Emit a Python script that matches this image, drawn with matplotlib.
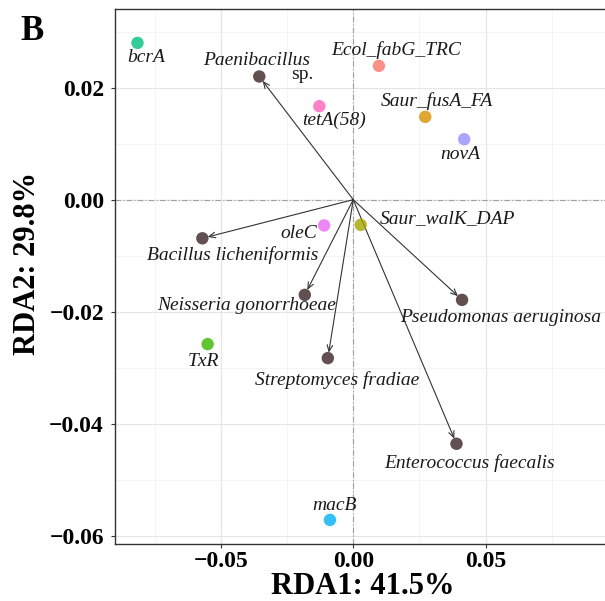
import matplotlib
matplotlib.use("Agg")
import matplotlib.pyplot as plt
from matplotlib.ticker import MultipleLocator

plt.rcParams['font.family'] = ['Liberation Serif', 'DejaVu Serif']
plt.rcParams['axes.unicode_minus'] = True

# ---- data ----
gene_names = ["bcrA", "Ecol_fabG_TRC", "tetA(58)", "Saur_fusA_FA", "novA",
              "oleC", "Saur_walK_DAP", "TxR", "macB"]
gene_x = [-0.0815, 0.0097, -0.0128, 0.0272, 0.0419, -0.0110, 0.0028, -0.0550, -0.0088]
gene_y = [0.0280, 0.0239, 0.0167, 0.0148, 0.0108, -0.0046, -0.0045, -0.0258, -0.0572]
gene_colors = ["#00BF7D", "#F8766D", "#FF62BC", "#D89000", "#9590FF",
               "#E76BF3", "#A3A500", "#39B600", "#00B0F6"]

species_names = ["Paenibacillus", "Bacillus licheniformis", "Neisseria gonorrhoeae",
                 "Pseudomonas aeruginosa", "Streptomyces fradiae", "Enterococcus faecalis"]
species_x = [-0.0355, -0.0570, -0.0183, 0.0411, -0.0096, 0.0390]
species_y = [0.0220, -0.0069, -0.0170, -0.0179, -0.0283, -0.0436]

x_ticks = [-0.05, 0.00, 0.05]
y_ticks = [-0.06, -0.04, -0.02, 0.00, 0.02]
x_label = "RDA1: 41.5%"
y_label = "RDA2: 29.8%"
panel_tag = "B"

# label offsets (pixels) - styling
gene_offsets = [(9, -15), (17, 16), (15, -14), (12, 16), (-4, -15),
                (-25, -8), (87, 6), (-4, -17), (5, 14)]
species_offsets = [(-3, 16), (30, -17), (-58, -11), (39, -18), (9, -22), (13, -19)]

fig = plt.figure(figsize=(6.05, 6.01), dpi=100)
ax = fig.add_axes([115/605, 1-544/601, 1-115/605, (544-9.3)/601])

ax.set_xlim(-0.0900, 0.0951)
ax.set_ylim(-0.0615, 0.0340)

ax.xaxis.set_major_locator(MultipleLocator(0.05))
ax.xaxis.set_minor_locator(MultipleLocator(0.025))
ax.yaxis.set_major_locator(MultipleLocator(0.02))
ax.yaxis.set_minor_locator(MultipleLocator(0.01))
ax.grid(True, which='major', color='#E6E6E6', lw=0.9, zorder=0)
ax.grid(True, which='minor', color='#F2F2F2', lw=0.6, zorder=0)
ax.set_axisbelow(True)

ax.axhline(0, color='#A0A0A0', lw=0.8, ls=(0, (5, 2, 1, 2)), zorder=1)
ax.axvline(0, color='#A0A0A0', lw=0.8, ls=(0, (5, 2, 1, 2)), zorder=1)

# arrows
for sx, sy in zip(species_x, species_y):
    ax.annotate("", xy=(sx, sy), xytext=(0, 0),
                arrowprops=dict(arrowstyle='->,head_length=0.45,head_width=0.2',
                                lw=0.8, color='#333333', shrinkA=0, shrinkB=4),
                zorder=2)

ax.scatter(gene_x, gene_y, s=80, c=gene_colors, alpha=0.8, edgecolors='none', zorder=3)
ax.scatter(species_x, species_y, s=80, c='#5A4545', alpha=0.95, edgecolors='none', zorder=3)

lab_fs = 14
for name, x, y, off in zip(gene_names, gene_x, gene_y, gene_offsets):
    ax.annotate(name, (x, y), xytext=off, textcoords='offset pixels',
                ha='center', va='center', fontsize=lab_fs, style='italic', color='#1a1a1a')
for name, x, y, off in zip(species_names, species_x, species_y, species_offsets):
    ax.annotate(name, (x, y), xytext=off, textcoords='offset pixels',
                ha='center', va='center', fontsize=lab_fs, style='italic', color='#1a1a1a')
# "sp." for Paenibacillus
ax.annotate("sp.", (species_x[0], species_y[0]), xytext=(43, 2), textcoords='offset pixels',
            ha='center', va='center', fontsize=lab_fs, color='#1a1a1a')

ax.set_xticks(x_ticks)
ax.set_yticks(y_ticks)
ax.set_xticklabels([f"{v:.2f}".replace("-", "\u2212") for v in x_ticks],
                   fontsize=17, fontweight='bold')
ax.set_yticklabels([f"{v:.2f}".replace("-", "\u2212") for v in y_ticks],
                   fontsize=17, fontweight='bold')
ax.tick_params(which='major', length=3, width=0.8, color='#333333')
ax.tick_params(axis='x', which='major', pad=2)
ax.tick_params(axis='y', which='major', pad=5)
ax.tick_params(which='minor', length=0)

for s in ['left', 'bottom', 'top']:
    ax.spines[s].set_color('#333333')
    ax.spines[s].set_linewidth(1.0)
ax.spines['right'].set_visible(False)

fig.text(363/605, 1-587/601, x_label, ha='center', va='center', fontsize=22, fontweight='bold')
fig.text(28/605, 1-263/601, y_label, ha='center', va='center', fontsize=22,
         fontweight='bold', rotation=90)
fig.text(31.7/605, 1-31/601, panel_tag, ha='center', va='center', fontsize=25, fontweight='bold')

fig.savefig("out.png", dpi=100)
